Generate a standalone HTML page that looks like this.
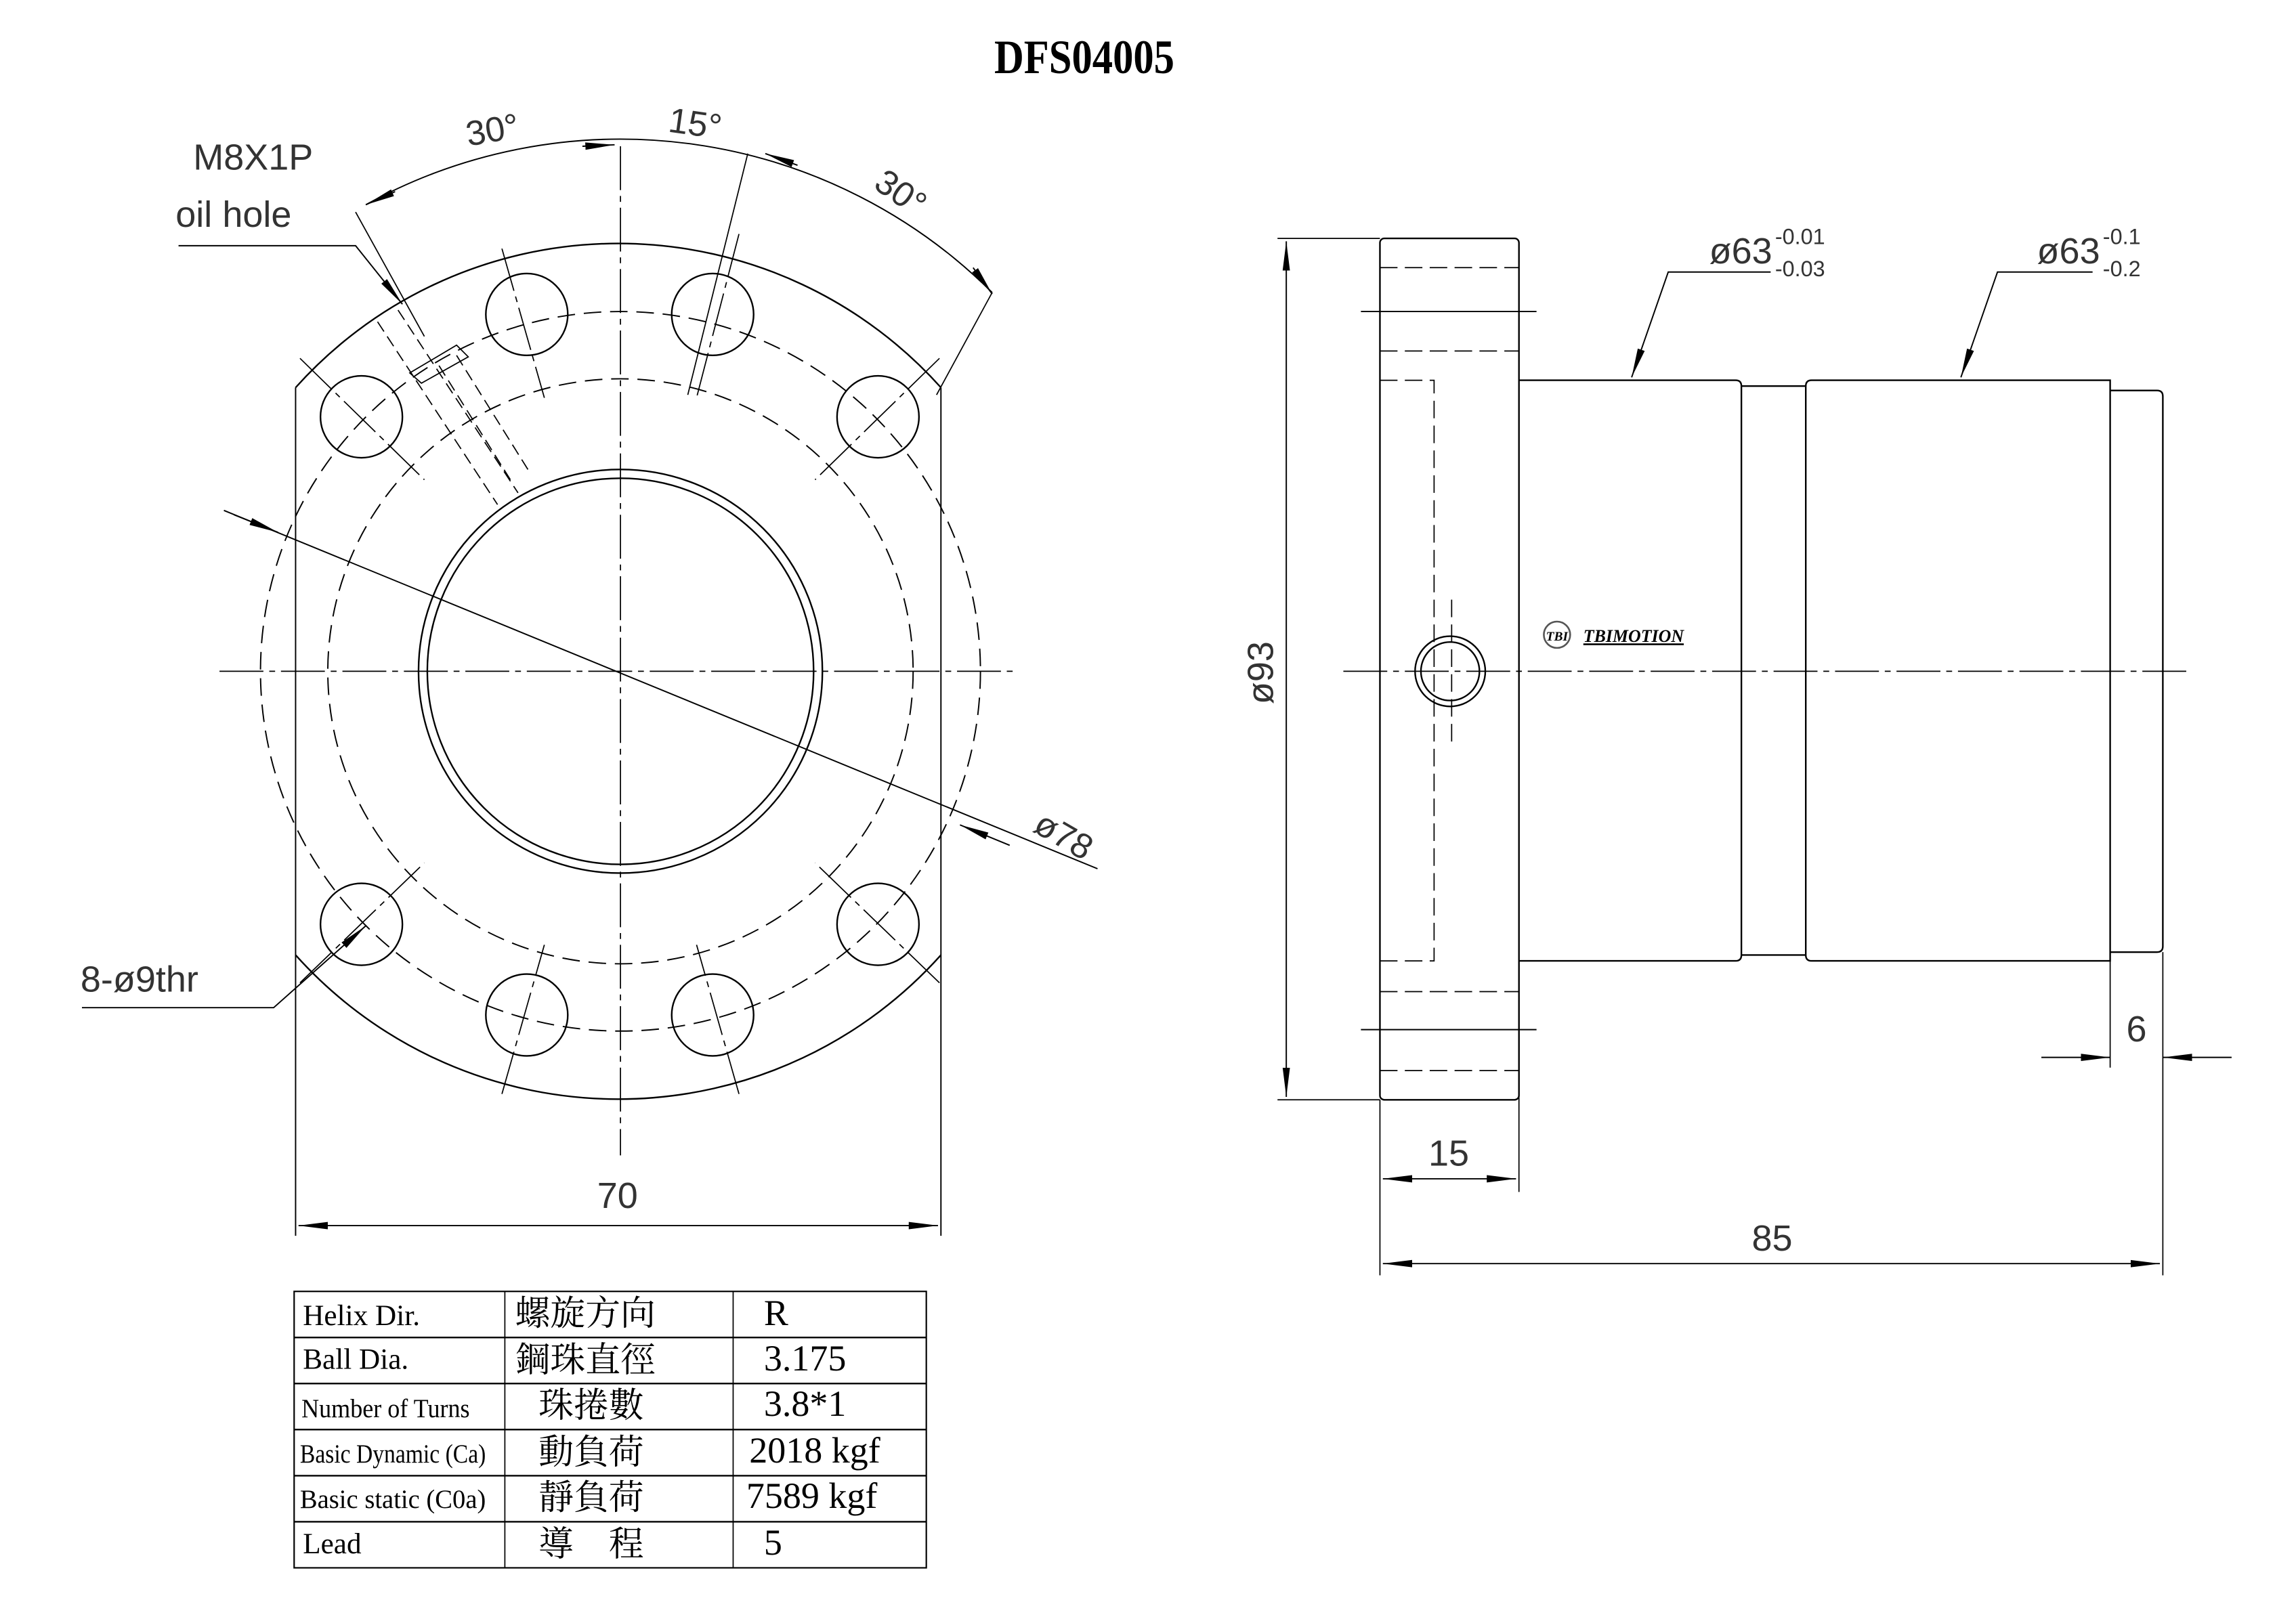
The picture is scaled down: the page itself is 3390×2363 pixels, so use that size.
<!DOCTYPE html>
<html><head><meta charset="utf-8"><style>
html,body{margin:0;padding:0;background:#fff;}
svg{display:block;}
text{font-family:"Liberation Sans","Noto Sans CJK TC",sans-serif;fill:#333;}
.s{font-family:"Liberation Serif","Noto Serif CJK SC","Noto Sans CJK TC",serif;fill:#000;}
</style></head><body>
<svg width="3390" height="2363" viewBox="0 0 1569 1094" preserveAspectRatio="none" xmlns="http://www.w3.org/2000/svg">
<defs>
<marker id="a" viewBox="0 0 20 6" refX="20" refY="3" markerWidth="20" markerHeight="6" markerUnits="userSpaceOnUse" orient="auto-start-reverse"><path d="M0,0.5 L20,3 L0,5.5 z" fill="#000"/></marker>
</defs>
<text x="741" y="50" class="s" font-size="33" font-weight="bold" text-anchor="middle" transform="translate(741 0) scale(0.85 1) translate(-741 0)">DFS04005</text>

<g fill="none" stroke="#000" stroke-width="1.1">
<!-- LEFT VIEW -->
<path d="M202,265 A296,296 0 0 1 643,265"/>
<path d="M202,653 A296,296 0 0 0 643,653"/>
<line x1="202" y1="265" x2="202" y2="845" stroke-width="0.9"/>
<line x1="643" y1="265" x2="643" y2="845" stroke-width="0.9"/>
<circle cx="424" cy="459" r="246" stroke-dasharray="12 6" stroke-width="0.9"/>
<circle cx="424" cy="459" r="200" stroke-dasharray="12 6" stroke-width="0.9"/>
<circle cx="424" cy="459" r="138"/>
<circle cx="424" cy="459" r="132"/>
<g>
<circle cx="360" cy="215" r="28"/><circle cx="487" cy="215" r="28"/>
<circle cx="247" cy="285" r="28"/><circle cx="600" cy="285" r="28"/>
<circle cx="247" cy="632" r="28"/><circle cx="600" cy="632" r="28"/>
<circle cx="360" cy="694" r="28"/><circle cx="487" cy="694" r="28"/>
</g>
<g stroke-width="0.8" stroke-dasharray="30 4 4 4">
<line x1="150" y1="459" x2="695" y2="459"/>
<line x1="424" y1="100" x2="424" y2="790"/>
<line x1="343" y1="170" x2="372" y2="272"/><line x1="505" y1="160" x2="476" y2="272"/>
<line x1="205" y1="245" x2="290" y2="328"/><line x1="642" y1="245" x2="557" y2="328"/>
<line x1="205" y1="672" x2="290" y2="590"/><line x1="642" y1="672" x2="557" y2="590"/>
<line x1="343" y1="748" x2="372" y2="646"/><line x1="505" y1="748" x2="476" y2="646"/>
</g>
<line x1="243" y1="145" x2="290" y2="230" stroke-width="0.8"/>
<line x1="511" y1="105" x2="470" y2="270" stroke-width="0.8"/>
<g stroke-width="0.8" stroke-dasharray="8 4">
<line x1="258" y1="220" x2="340" y2="345"/><line x1="272" y1="212" x2="354" y2="337"/>
<line x1="300" y1="250" x2="350" y2="330"/><line x1="312" y1="243" x2="362" y2="323"/>
</g>
<path d="M280,255 L312,236 L320,244 L288,262 z" stroke-width="0.8"/>
<path d="M250,140 A360,360 0 0 1 678,200" stroke-width="0.9"/>
<line x1="270" y1="131" x2="250" y2="140" marker-end="url(#a)" stroke-width="0.9"/>
<line x1="398" y1="100" x2="420" y2="99" marker-end="url(#a)" stroke-width="0.9"/>
<line x1="545" y1="113" x2="523" y2="105" marker-end="url(#a)" stroke-width="0.9"/>
<line x1="665" y1="183" x2="678" y2="201" marker-end="url(#a)" stroke-width="0.9"/>
<line x1="678" y1="200" x2="640" y2="270" stroke-width="0.8"/>
<polyline points="122,168 243,168 275,208" stroke-width="0.9" marker-end="url(#a)"/>
<line x1="153" y1="349" x2="750" y2="594" stroke-width="0.9"/>
<line x1="160" y1="352" x2="190" y2="364" marker-end="url(#a)" stroke-width="0.9"/>
<line x1="690" y1="578" x2="656" y2="564" marker-end="url(#a)" stroke-width="0.9"/>
<polyline points="56,689 187,689 250,633" stroke-width="0.9" marker-end="url(#a)"/>
<line x1="204" y1="838" x2="641" y2="838" stroke-width="0.9" marker-start="url(#a)" marker-end="url(#a)"/>

<!-- RIGHT VIEW -->
<rect x="943" y="163" width="95" height="589" rx="3"/>
<g stroke-width="0.8" stroke-dasharray="12 5">
<line x1="943" y1="183" x2="1038" y2="183"/>
<line x1="943" y1="240" x2="1038" y2="240"/>
<line x1="943" y1="678" x2="1038" y2="678"/>
<line x1="943" y1="732" x2="1038" y2="732"/>
<polyline points="943,260 980,260 980,657 943,657"/>
<line x1="992" y1="410" x2="992" y2="508"/>
</g>
<line x1="930" y1="213" x2="1050" y2="213" stroke-width="0.9"/>
<line x1="930" y1="704" x2="1050" y2="704" stroke-width="0.9"/>
<circle cx="991" cy="459" r="24"/>
<circle cx="991" cy="459" r="20"/>
<path d="M1038,260 H1186 Q1190,260 1190,264 V653 Q1190,657 1186,657 H1038"/>
<path d="M1190,264 H1234 M1190,653 H1234" />
<path d="M1238,260 H1442 V657 H1238 Q1234,657 1234,653 V264 Q1234,260 1238,260 z"/>
<path d="M1442,267 H1474 Q1478,267 1478,271 V647 Q1478,651 1474,651 H1442"/>
<line x1="918" y1="459" x2="1495" y2="459" stroke-width="0.8" stroke-dasharray="30 4 4 4"/>
<line x1="873" y1="163" x2="943" y2="163" stroke-width="0.8"/>
<line x1="873" y1="752" x2="943" y2="752" stroke-width="0.8"/>
<line x1="879" y1="165" x2="879" y2="750" stroke-width="0.9" marker-start="url(#a)" marker-end="url(#a)"/>
<line x1="943" y1="752" x2="943" y2="872" stroke-width="0.8"/>
<line x1="1038" y1="657" x2="1038" y2="815" stroke-width="0.8"/>
<line x1="945" y1="806" x2="1036" y2="806" stroke-width="0.9" marker-start="url(#a)" marker-end="url(#a)"/>
<line x1="1478" y1="651" x2="1478" y2="872" stroke-width="0.8"/>
<line x1="945" y1="864" x2="1476" y2="864" stroke-width="0.9" marker-start="url(#a)" marker-end="url(#a)"/>
<line x1="1442" y1="657" x2="1442" y2="730" stroke-width="0.8"/>
<line x1="1395" y1="723" x2="1442" y2="723" stroke-width="0.9" marker-end="url(#a)"/>
<line x1="1525" y1="723" x2="1478" y2="723" stroke-width="0.9" marker-end="url(#a)"/>
<polyline points="1210,186 1140,186 1115,258" stroke-width="0.9" marker-end="url(#a)"/>
<polyline points="1430,186 1365,186 1340,258" stroke-width="0.9" marker-end="url(#a)"/>

<!-- TABLE -->
<rect x="201" y="883" width="432" height="189" stroke-width="1"/>
<line x1="345" y1="883" x2="345" y2="1072" stroke-width="0.8"/>
<line x1="501" y1="883" x2="501" y2="1072" stroke-width="0.8"/>
<line x1="201" y1="914.5" x2="633" y2="914.5"/>
<line x1="201" y1="946" x2="633" y2="946"/>
<line x1="201" y1="977.5" x2="633" y2="977.5"/>
<line x1="201" y1="1009" x2="633" y2="1009"/>
<line x1="201" y1="1040.5" x2="633" y2="1040.5"/>
</g>

<circle cx="1064" cy="434" r="9" fill="none" stroke="#555" stroke-width="1.2"/>
<text x="1064" y="438" font-size="9" text-anchor="middle" class="s" font-weight="bold" font-style="italic">TBI</text>
<text x="1082" y="439" font-size="12" class="s" font-weight="bold" font-style="italic" text-decoration="underline">TBIMOTION</text>

<text x="132" y="116" font-size="25">M8X1P</text>
<text x="120" y="155" font-size="25">oil hole</text>
<text x="320" y="100" font-size="24" transform="rotate(-10 320 100)">30°</text>
<text x="456" y="90" font-size="24" transform="rotate(8 456 90)">15°</text>
<text x="596" y="128" font-size="24" transform="rotate(35 596 128)">30°</text>
<text x="705" y="568" font-size="24" transform="rotate(30 705 568)">ø78</text>
<text x="55" y="678" font-size="25">8-ø9thr</text>
<text x="422" y="826" font-size="25" text-anchor="middle">70</text>
<text x="1168" y="180" font-size="25">ø63</text>
<text x="1213" y="167" font-size="15">-0.01</text>
<text x="1213" y="189" font-size="15">-0.03</text>
<text x="1392" y="180" font-size="25">ø63</text>
<text x="1437" y="167" font-size="15">-0.1</text>
<text x="1437" y="189" font-size="15">-0.2</text>
<text x="870" y="460" font-size="25" text-anchor="middle" transform="rotate(-90 870 460)">ø93</text>
<text x="990" y="797" font-size="25" text-anchor="middle">15</text>
<text x="1211" y="855" font-size="25" text-anchor="middle">85</text>
<text x="1460" y="712" font-size="25" text-anchor="middle">6</text>

<g class="s">
<text x="207" y="906" font-size="20" class="s">Helix  Dir.</text>
<text x="207" y="936" font-size="20" class="s">Ball Dia.</text>
<text x="206" y="969" font-size="18" class="s" textLength="115" lengthAdjust="spacingAndGlyphs">Number of Turns</text>
<text x="205" y="1000" font-size="18" class="s" textLength="127" lengthAdjust="spacingAndGlyphs">Basic Dynamic (Ca)</text>
<text x="205" y="1031" font-size="18" class="s" textLength="127" lengthAdjust="spacingAndGlyphs">Basic static (C0a)</text>
<text x="207" y="1062" font-size="20" class="s">Lead</text>
<text x="352" y="906" font-size="24" class="s">螺旋方向</text>
<text x="352" y="938" font-size="24" class="s">鋼珠直徑</text>
<text x="368" y="969" font-size="24" class="s">珠捲數</text>
<text x="368" y="1001" font-size="24" class="s">動負荷</text>
<text x="368" y="1032" font-size="24" class="s">靜負荷</text>
<text x="368" y="1064" font-size="24" class="s">導　程</text>
<text x="522" y="906" font-size="25" class="s">R</text>
<text x="522" y="937" font-size="25" class="s">3.175</text>
<text x="522" y="968" font-size="25" class="s">3.8*1</text>
<text x="512" y="1000" font-size="25" class="s">2018 kgf</text>
<text x="510" y="1031" font-size="25" class="s">7589 kgf</text>
<text x="522" y="1063" font-size="25" class="s">5</text>
</g>
</svg>
</body></html>
